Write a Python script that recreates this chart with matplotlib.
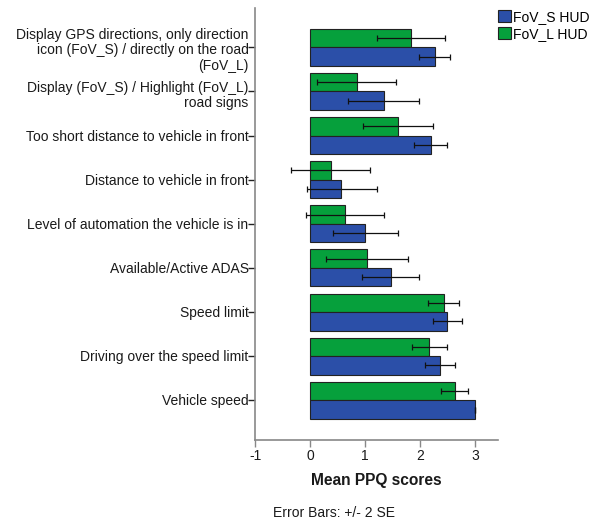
import matplotlib
matplotlib.use("Agg")
import matplotlib.pyplot as plt
import matplotlib.transforms as mtransforms
import numpy as np
from matplotlib.patches import Patch

plt.rcParams['font.family'] = ['Liberation Sans', 'DejaVu Sans']

categories = [
    "Display GPS directions, only direction\nicon (FoV_S) / directly on the road\n(FoV_L)",
    "Display (FoV_S) / Highlight (FoV_L)\nroad signs",
    "Too short distance to vehicle in front",
    "Distance to vehicle in front",
    "Level of automation the vehicle is in",
    "Available/Active ADAS",
    "Speed limit",
    "Driving over the speed limit",
    "Vehicle speed",
]
series_names = ["FoV_S HUD", "FoV_L HUD"]
fovs_mean = [2.27, 1.34, 2.20, 0.57, 1.00, 1.47, 2.50, 2.36, 3.00]
fovs_lo = [1.98, 0.70, 1.90, -0.06, 0.41, 0.94, 2.23, 2.10, 3.00]
fovs_hi = [2.55, 1.98, 2.49, 1.21, 1.60, 1.99, 2.76, 2.63, 3.00]
fovl_mean = [1.84, 0.85, 1.60, 0.375, 0.64, 1.04, 2.43, 2.17, 2.63]
fovl_lo = [1.22, 0.12, 0.97, -0.34, -0.07, 0.30, 2.14, 1.85, 2.38]
fovl_hi = [2.46, 1.56, 2.24, 1.10, 1.35, 1.78, 2.71, 2.49, 2.88]
xticks = [-1, 0, 1, 2, 3]

blue = '#2b4fa8'
green = '#06a03c'
edge = '#222222'
txt = '#1a1a1a'

fig = plt.figure(figsize=(6.0, 5.21), dpi=100)
ax = fig.add_axes([0.425, 0.1555, 0.405, 0.829])

y = np.arange(len(categories))
h = 0.42
s_mean = np.array(fovs_mean); l_mean = np.array(fovl_mean)
ax.barh(y - h/2, l_mean, height=h, color=green, edgecolor=edge, linewidth=0.8)
ax.barh(y + h/2, s_mean, height=h, color=blue, edgecolor=edge, linewidth=0.8)

l_err = [l_mean - np.array(fovl_lo), np.array(fovl_hi) - l_mean]
s_err = [s_mean - np.array(fovs_lo), np.array(fovs_hi) - s_mean]
ax.errorbar(l_mean, y - h/2, xerr=l_err, fmt='none', ecolor='#111111',
            elinewidth=0.9, capsize=2.2, capthick=0.9)
ax.errorbar(s_mean, y + h/2, xerr=s_err, fmt='none', ecolor='#111111',
            elinewidth=0.9, capsize=2.2, capthick=0.9)

ax.set_xlim(-1, 3.42)
ax.set_ylim(8.9, -0.89)
ax.set_yticks(y)
ax.set_yticklabels([])
ax.set_xticks(xticks)
ax.set_xticklabels([str(t) for t in xticks], fontsize=10, color=txt)

# category labels, placed next to their ticks
for i, lab in enumerate(categories):
    nlines = lab.count("\n") + 1
    dy = {1: -1, 2: -4, 3: -3}[nlines] / 100.0  # inches
    tr = ax.get_yaxis_transform() + mtransforms.ScaledTranslation(-0.065, dy, fig.dpi_scale_trans)
    ax.text(0, i, lab, transform=tr, ha='right', va='center', multialignment='right',
            fontsize=10, linespacing=1.12, color=txt)

for side in ['top', 'right']:
    ax.spines[side].set_visible(False)
for side in ['left', 'bottom']:
    ax.spines[side].set_color('#888888')
    ax.spines[side].set_linewidth(1.2)
ax.tick_params(axis='y', length=5, width=1, color='#222222', pad=0)
ax.tick_params(axis='x', length=5, width=1, color='#888888', pad=1.5)

ax.set_xlabel("Mean PPQ scores", fontsize=11.2, fontweight='bold', labelpad=7.5, color=txt)
fig.text(0.557, 0.0077, "Error Bars: +/- 2 SE", ha='center', va='baseline', fontsize=10, color=txt)

handles = [Patch(facecolor=blue, edgecolor=edge, linewidth=0.8),
           Patch(facecolor=green, edgecolor=edge, linewidth=0.8)]
fig.legend(handles, series_names, loc='upper left', bbox_to_anchor=(0.83, 0.981),
           frameon=False, fontsize=10, handlelength=0.95, handleheight=0.95,
           handletextpad=0.15, labelspacing=0.2, borderaxespad=0, borderpad=0.0)

fig.savefig("out.png", dpi=100)
